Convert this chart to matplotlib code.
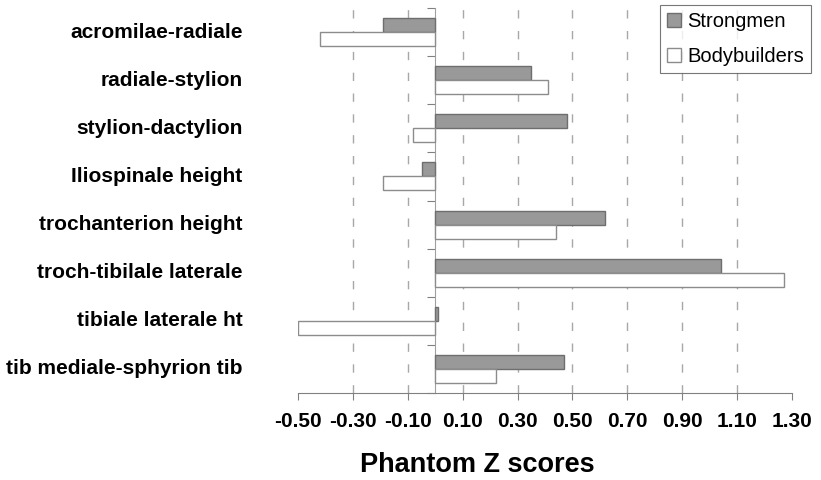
import matplotlib
matplotlib.use("Agg")
import matplotlib.pyplot as plt
import numpy as np

# Phantom Z scores per segment
segments = ["acromilae-radiale", "radiale-stylion", "stylion-dactylion",
            "Iliospinale height", "trochanterion height", "troch-tibilale laterale",
            "tibiale laterale ht", "tib mediale-sphyrion tib"]
strongmen = [-0.19, 0.35, 0.48, -0.05, 0.62, 1.04, 0.01, 0.47]
bodybuilders = [-0.42, 0.41, -0.08, -0.19, 0.44, 1.27, -0.50, 0.22]
xticks = [-0.5, -0.3, -0.1, 0.1, 0.3, 0.5, 0.7, 0.9, 1.1, 1.3]

plt.rcParams['font.family'] = ['Liberation Sans', 'DejaVu Sans']

fig = plt.figure(figsize=(8.21, 4.8), dpi=100)
ax = fig.add_axes([298/821, 1 - 393/480, 494/821, 385/480])

y = np.arange(len(segments))
h = 0.29
ax.barh(y - h/2, strongmen, height=h, color="#999999", edgecolor="#6e6e6e",
        linewidth=1, label="Strongmen", zorder=3)
ax.barh(y + h/2, bodybuilders, height=h, color="white", edgecolor="#8c8c8c",
        linewidth=1, label="Bodybuilders", zorder=3)

ax.set_xlim(-0.5, 1.3)
ax.set_ylim(len(segments) - 0.5, -0.5)

# dashed gridlines at the major ticks
for xv in xticks[1:-1]:
    ax.axvline(xv, color="#a8a8a8", linestyle=(0, (6, 9)), linewidth=1, zorder=1)

ax.set_xticks(xticks)
ax.set_xticklabels([f"{v:.2f}" for v in xticks], fontsize=15, fontweight="bold")
ax.tick_params(axis="x", direction="out", length=5, color="#808080", pad=9)

# vertical axis sits at zero with ticks on category boundaries
ax.spines["left"].set_position(("data", 0))
ax.spines["left"].set_color("#a0a0a0")
ax.spines["bottom"].set_color("#808080")
ax.spines["top"].set_visible(False)
ax.spines["right"].set_visible(False)
ax.set_yticks(np.arange(-0.5, len(segments), 1.0))
ax.set_yticklabels([])
ax.tick_params(axis="y", direction="out", length=6, color="#808080")

for i, name in enumerate(segments):
    ax.text(-0.112, i, name, transform=ax.get_yaxis_transform(), ha="right",
            va="center", fontsize=15, fontweight="bold")

fig.text(477/821, 1 - 465/480, "Phantom Z scores", ha="center", va="center",
         fontsize=19.5, fontweight="bold")

leg = ax.legend(loc="upper right", bbox_to_anchor=(811/821, 1 - 5/480),
                bbox_transform=fig.transFigure, borderaxespad=0, fancybox=False,
                edgecolor="#555555", fontsize=14.5, handlelength=0.7, handleheight=0.7,
                handletextpad=0.3, borderpad=0.35, labelspacing=0.8)
leg.get_frame().set_linewidth(0.8)

fig.savefig("out.png", dpi=100)
